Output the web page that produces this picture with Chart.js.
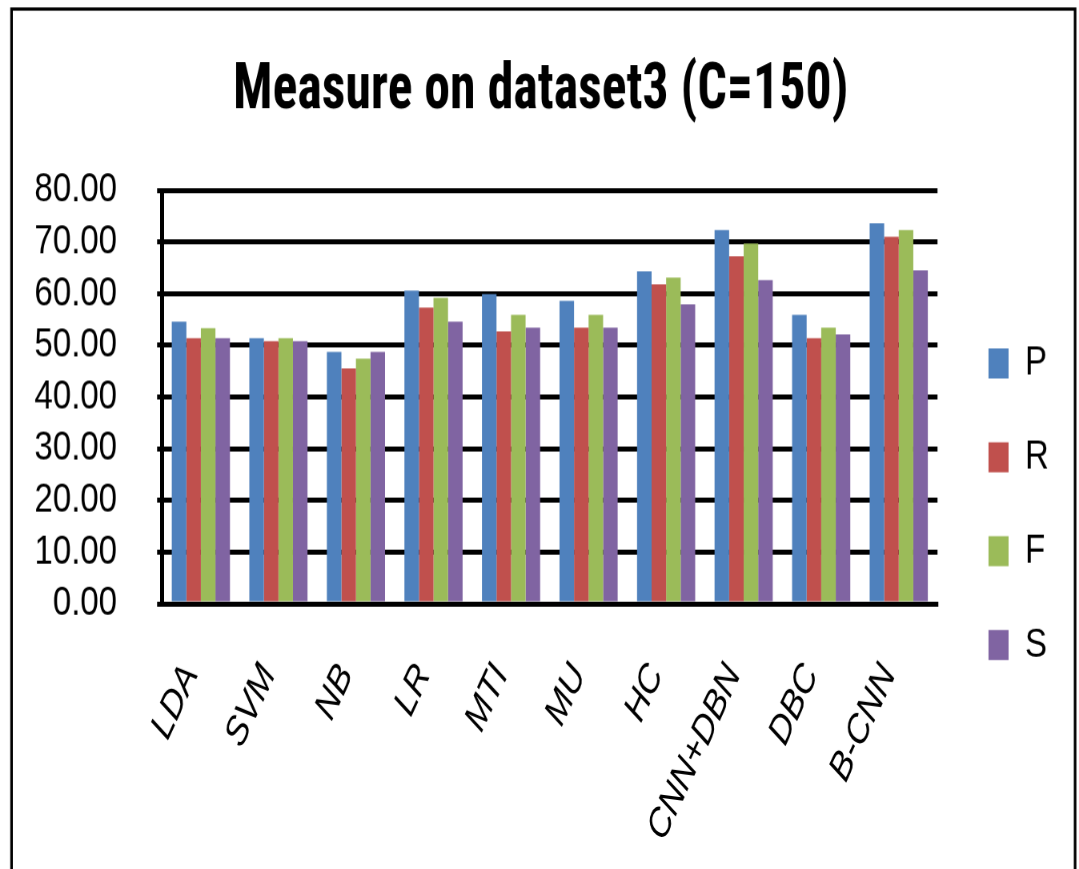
<!DOCTYPE html>
<html>
<head>
<meta charset="utf-8">
<script src="https://cdn.jsdelivr.net/npm/chart.js@4.4.1/dist/chart.umd.min.js"></script>
<style>
  html, body { margin: 0; padding: 0; background: #fff; width: 1079px; height: 869px; }
  #page { position: relative; width: 1079px; height: 869px; }
  /* the chart is laid out on a shorter canvas and stretched vertically */
  #stage { position: absolute; left: 0; top: 0; width: 1079px; height: 695px; transform: scaleY(1.2504); transform-origin: 0 0; }
</style>
</head>
<body>
<div id="page"><div id="stage"><canvas id="c" width="1079" height="695"></canvas></div></div>
<script>
// ---- data ----
const categories = ['LDA', 'SVM', 'NB', 'LR', 'MTI', 'MU', 'HC', 'CNN+DBN', 'DBC', 'B-CNN'];
const seriesNames = ['P', 'R', 'F', 'S'];
const valuesP = [54.6, 51.4, 48.7, 60.6, 59.9, 58.6, 64.3, 72.3, 55.9, 73.6];
const valuesR = [51.4, 50.8, 45.5, 57.3, 52.7, 53.4, 61.8, 67.2, 51.4, 71.0];
const valuesF = [53.3, 51.4, 47.4, 59.2, 55.9, 55.9, 63.1, 69.7, 53.4, 72.3];
const valuesS = [51.4, 50.8, 48.7, 54.6, 53.4, 53.4, 57.9, 62.6, 52.1, 64.5];
const yTickValues = [0, 10, 20, 30, 40, 50, 60, 70, 80];
const titleText = 'Measure on dataset3 (C=150)';

// ---- styles ----
const seriesColors = ['#4F81BD', '#C0504D', '#9BBB59', '#8064A2'];
const SANS = "'Liberation Sans', Arial, sans-serif";
const TITLE_FAMILY = "'Roboto Condensed', 'Liberation Sans Narrow', 'Liberation Sans', Arial, sans-serif";

// title size: as large as 53px while keeping the line within 615px
function titleSize() {
  const ctx = document.createElement('canvas').getContext('2d');
  ctx.font = 'bold 100px ' + TITLE_FAMILY;
  const w = ctx.measureText(titleText).width;
  return Math.min(53, 100 * 615 / w);
}
const tSize = titleSize();

const allValues = [valuesP, valuesR, valuesF, valuesS];

// white page with the outer frame
const framePlugin = {
  id: 'frame',
  beforeDraw(chart) {
    const ctx = chart.ctx;
    ctx.save();
    ctx.fillStyle = '#ffffff';
    ctx.fillRect(0, 0, chart.width, chart.height);
    ctx.strokeStyle = '#000000';
    ctx.lineWidth = 2.6;
    ctx.strokeRect(11.5, 7.2, 1063, 720);
    ctx.restore();
  }
};

new Chart(document.getElementById('c'), {
  type: 'bar',
  data: {
    labels: categories,
    datasets: seriesNames.map((name, i) => ({
      label: name,
      data: allValues[i],
      backgroundColor: seriesColors[i],
      borderWidth: 0,
      categoryPercentage: 0.75,
      barPercentage: 1.0
    }))
  },
  options: {
    responsive: false,
    animation: false,
    devicePixelRatio: 1.25,
    layout: { padding: { left: 22.7, right: 20.7, top: 0, bottom: 0 } },
    plugins: {
      title: {
        display: true,
        text: titleText,
        color: '#000',
        font: { family: TITLE_FAMILY, size: tSize, weight: 'bold', lineHeight: 1.2 },
        padding: { top: 73.4 - tSize * 0.6, bottom: 152 - 73.4 - tSize * 0.6 }
      },
      legend: {
        display: true,
        position: 'right',
        align: 'start',
        // empty legend heading used as top spacing for the key column
        title: { display: true, text: '', font: { size: 10, lineHeight: 1.2 }, padding: { top: 219.9, bottom: 0 } },
        labels: {
          color: '#000',
          font: { family: SANS, size: 33 },
          boxWidth: 20,
          boxHeight: 24,
          padding: 42
        }
      },
      tooltip: { enabled: false }
    },
    scales: {
      x: {
        z: 1,
        grid: { display: false, drawTicks: false },
        border: { display: true, color: '#000', width: 4 },
        ticks: {
          color: '#000',
          font: { family: SANS, size: 32, style: 'italic' },
          autoSkip: false,
          minRotation: 60,
          maxRotation: 60,
          padding: 42,
          labelOffset: -10
        },
        afterFit(scale) { scale.height = 212.6; }
      },
      y: {
        min: 0,
        max: 80,
        afterBuildTicks(scale) { scale.ticks = yTickValues.map(v => ({ value: v })); },
        grid: { color: '#000', lineWidth: 4, tickLength: 5, drawTicks: true },
        border: { display: true, color: '#000', width: 4 },
        ticks: {
          color: '#000',
          font: { family: SANS, size: 33, lineHeight: 1 },
          autoSkip: false,
          padding: 40,
          callback: v => Number(v).toFixed(2)
        },
        afterFit(scale) { scale.width = 139.3; }
      },
      gap: {
        type: 'linear',
        axis: 'y',
        position: 'right',
        display: true,
        grid: { display: false, drawTicks: false },
        border: { display: false },
        ticks: { display: false },
        afterFit(scale) { scale.width = 9; }
      }
    }
  },
  plugins: [framePlugin]
});
</script>
</body>
</html>
